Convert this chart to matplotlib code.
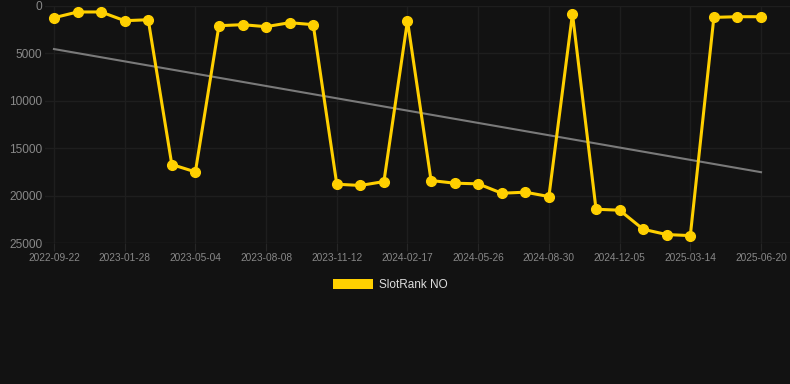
import matplotlib.pyplot as plt
from matplotlib.patches import Patch

plt.rcParams['font.family'] = ['Liberation Sans', 'DejaVu Sans']

# rank values (lower is better), one per period
ranks = [1240, 630, 630, 1550, 1450, 16720, 17500, 2080, 1970, 2180,
         1760, 1970, 18800, 18930, 18520, 1550, 18410, 18690, 18760, 19750,
         19640, 20100, 810, 21440, 21540, 23550, 24110, 24220, 1200, 1130,
         1130]
# labels shown on every third point
tick_labels = ['2022-09-22', '2023-01-28', '2023-05-04', '2023-08-08',
               '2023-11-12', '2024-02-17', '2024-05-26', '2024-08-30',
               '2024-12-05', '2025-03-14', '2025-06-20']
# trend line start / end values
trend = [4540, 17530]
y_ticks = [0, 5000, 10000, 15000, 20000, 25000]

bg = '#121212'
fig = plt.figure(figsize=(7.9, 3.84), dpi=100, facecolor=bg)
ax = fig.add_axes([45 / 790, 1 - 243 / 384, 745 / 790, 237 / 384])
ax.set_facecolor(bg)

x = list(range(len(ranks)))
ax.plot([x[0], x[-1]], trend, color='#7a7a7a', linewidth=1.5, zorder=2)
ax.plot(x, ranks, color='#ffd000', linewidth=2.2, marker='o',
        markersize=7, zorder=3)

ax.set_xlim(-0.38, 31.23)
ax.set_ylim(25000, 0)
ax.set_xticks(x[::3])
ax.set_xticklabels(tick_labels)
ax.set_yticks(y_ticks)

ax.grid(True, color='#1e1e1e', linewidth=1)
ax.axhline(25000, color='#262626', linewidth=1, zorder=1)
for s in ax.spines.values():
    s.set_visible(False)
ax.tick_params(axis='x', colors='#262626', labelcolor='#888888',
               labelsize=7.3, length=6, pad=1)
ax.tick_params(axis='y', length=0, labelcolor='#888888', labelsize=8.6, pad=2)

handle = Patch(facecolor='#ffd000', edgecolor='none')
fig.legend([handle], ['SlotRank NO'], loc='center',
           bbox_to_anchor=(390 / 790, 1 - 285 / 384), frameon=False,
           handlelength=3.4, handleheight=0.95, handletextpad=0.5,
           fontsize=8.5, labelcolor='#dddddd')

fig.savefig('out.png', dpi=100, facecolor=bg)
